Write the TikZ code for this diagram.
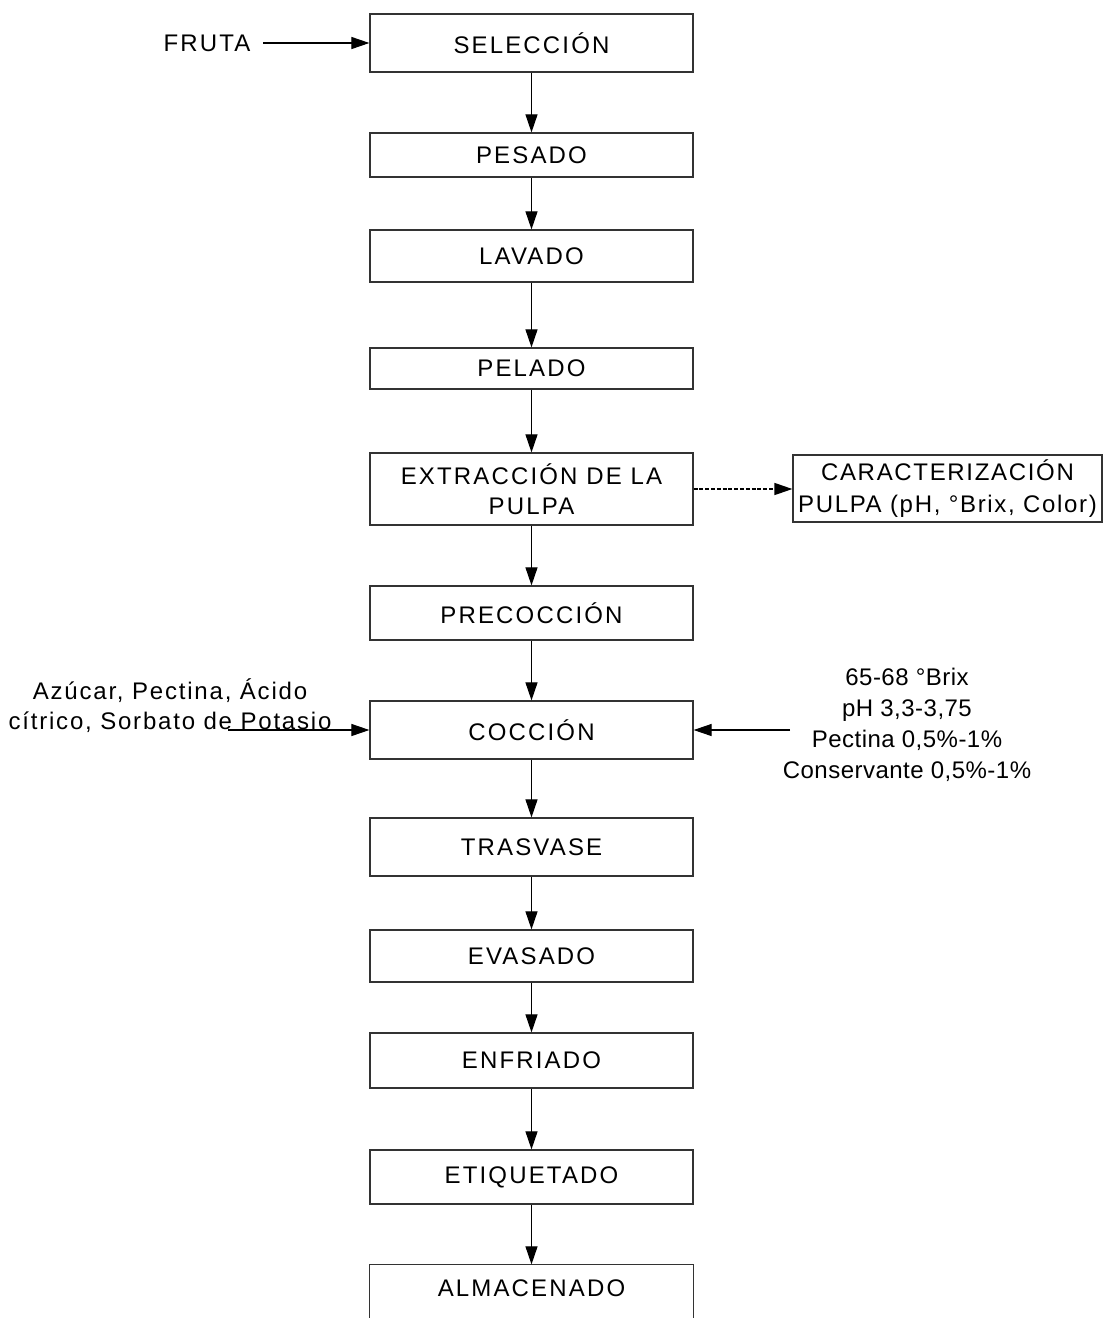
\documentclass[tikz,border=0pt]{standalone}
\usepackage{fontspec}
\setmainfont{Liberation Sans}[LetterSpace=9]
\newfontfamily\sidefont{Liberation Sans}[LetterSpace=7.5]
\newfontfamily\notefont{Liberation Sans}[LetterSpace=2]
\newfontfamily\charfont{Liberation Sans}[LetterSpace=7]
\usetikzlibrary{arrows.meta}
\begin{document}
\begin{tikzpicture}[x=0.5pt,y=-0.5pt,
  stepbox/.style={draw=black!80, line width=0.6pt, minimum width=161.5pt,
    inner sep=0pt, align=center, font=\fontsize{12}{15}\selectfont},
  label/.style={inner sep=0pt, align=center, font=\fontsize{12}{15}\selectfont},
  flow/.style={-{Triangle[length=9pt,width=6pt]}, line width=0.55pt, black},
  probe/.style={flow, line width=0.7pt, dash pattern=on 2pt off 0.9pt},
]
\useasboundingbox (0,0) rectangle (1105,1318);
\clip (0,0) rectangle (1105,1318);

% main process column
\node[stepbox, minimum height=29pt]   (sel) at (531.5,43)     {SELECCIÓN};
\node[stepbox, minimum height=22pt]   (pes) at (531.5,155)    {PESADO};
\node[stepbox, minimum height=26pt]   (lav) at (531.5,256)    {LAVADO};
\node[stepbox, minimum height=20.5pt] (pel) at (531.5,368.5)  {PELADO};
\node[stepbox, minimum height=36pt]   (ext) at (531.5,489)    {EXTRACCIÓN DE LA\\PULPA};
\node[stepbox, minimum height=27pt]   (pre) at (531.5,613)    {PRECOCCIÓN};
\node[stepbox, minimum height=29pt]   (coc) at (531.5,730)    {COCCIÓN};
\node[stepbox, minimum height=29pt]   (tra) at (531.5,847)    {TRASVASE};
\node[stepbox, minimum height=26pt]   (eva) at (531.5,956)    {EVASADO};
\node[stepbox, minimum height=27.5pt] (enf) at (531.5,1060.5) {ENFRIADO};
\node[stepbox, minimum height=27pt]   (eti) at (531.5,1177)   {ETIQUETADO};
\node[stepbox, draw=none, minimum height=23pt] (alm) at (531.5,1288) {ALMACENADO};
\coordinate (bot) at (0,1318);
\draw[draw=black!80, line width=0.6pt] (alm.north west |- bot) -- (alm.north west)
  -- (alm.north east) -- (alm.north east |- bot);

% quality check of the pulp
\node[stepbox, minimum width=154.5pt, minimum height=33.5pt,
  font=\charfont\fontsize{12}{16}\selectfont] (car) at (947.5,488.5)
  {CARACTERIZACIÓN\\PULPA (pH, °Brix, Color)};

% inputs
\node[label] (fruta) at (207,43) {FRUTA};
\coordinate (frutaout) at (263,43);
\node[label, font=\sidefont\fontsize{12}{15}\selectfont] (add) at (170,706)
  {Azúcar, Pectina, Ácido\\cítrico, Sorbato de Potasio};
\coordinate (addout) at (228,730);
\node[label, font=\notefont\fontsize{12}{15.5}\selectfont] (spec) at (907,725)
  {65-68 °Brix\\pH 3,3-3,75\\Pectina 0,5\%-1\%\\Conservante 0,5\%-1\%};
\coordinate (specout) at (790,730);

% connectors
\draw[flow] (frutaout) -- (sel.west);
\foreach \a/\b in {sel/pes, pes/lav, lav/pel, pel/ext, ext/pre, pre/coc,
                   coc/tra, tra/eva, eva/enf, enf/eti, eti/alm}
  \draw[flow] (\a.south) -- (\b.north);
\draw[probe] (ext.east) -- (ext.east -| car.west);
\draw[flow] (addout) -- (coc.west);
\draw[flow] (specout) -- (coc.east);
\end{tikzpicture}
\end{document}
